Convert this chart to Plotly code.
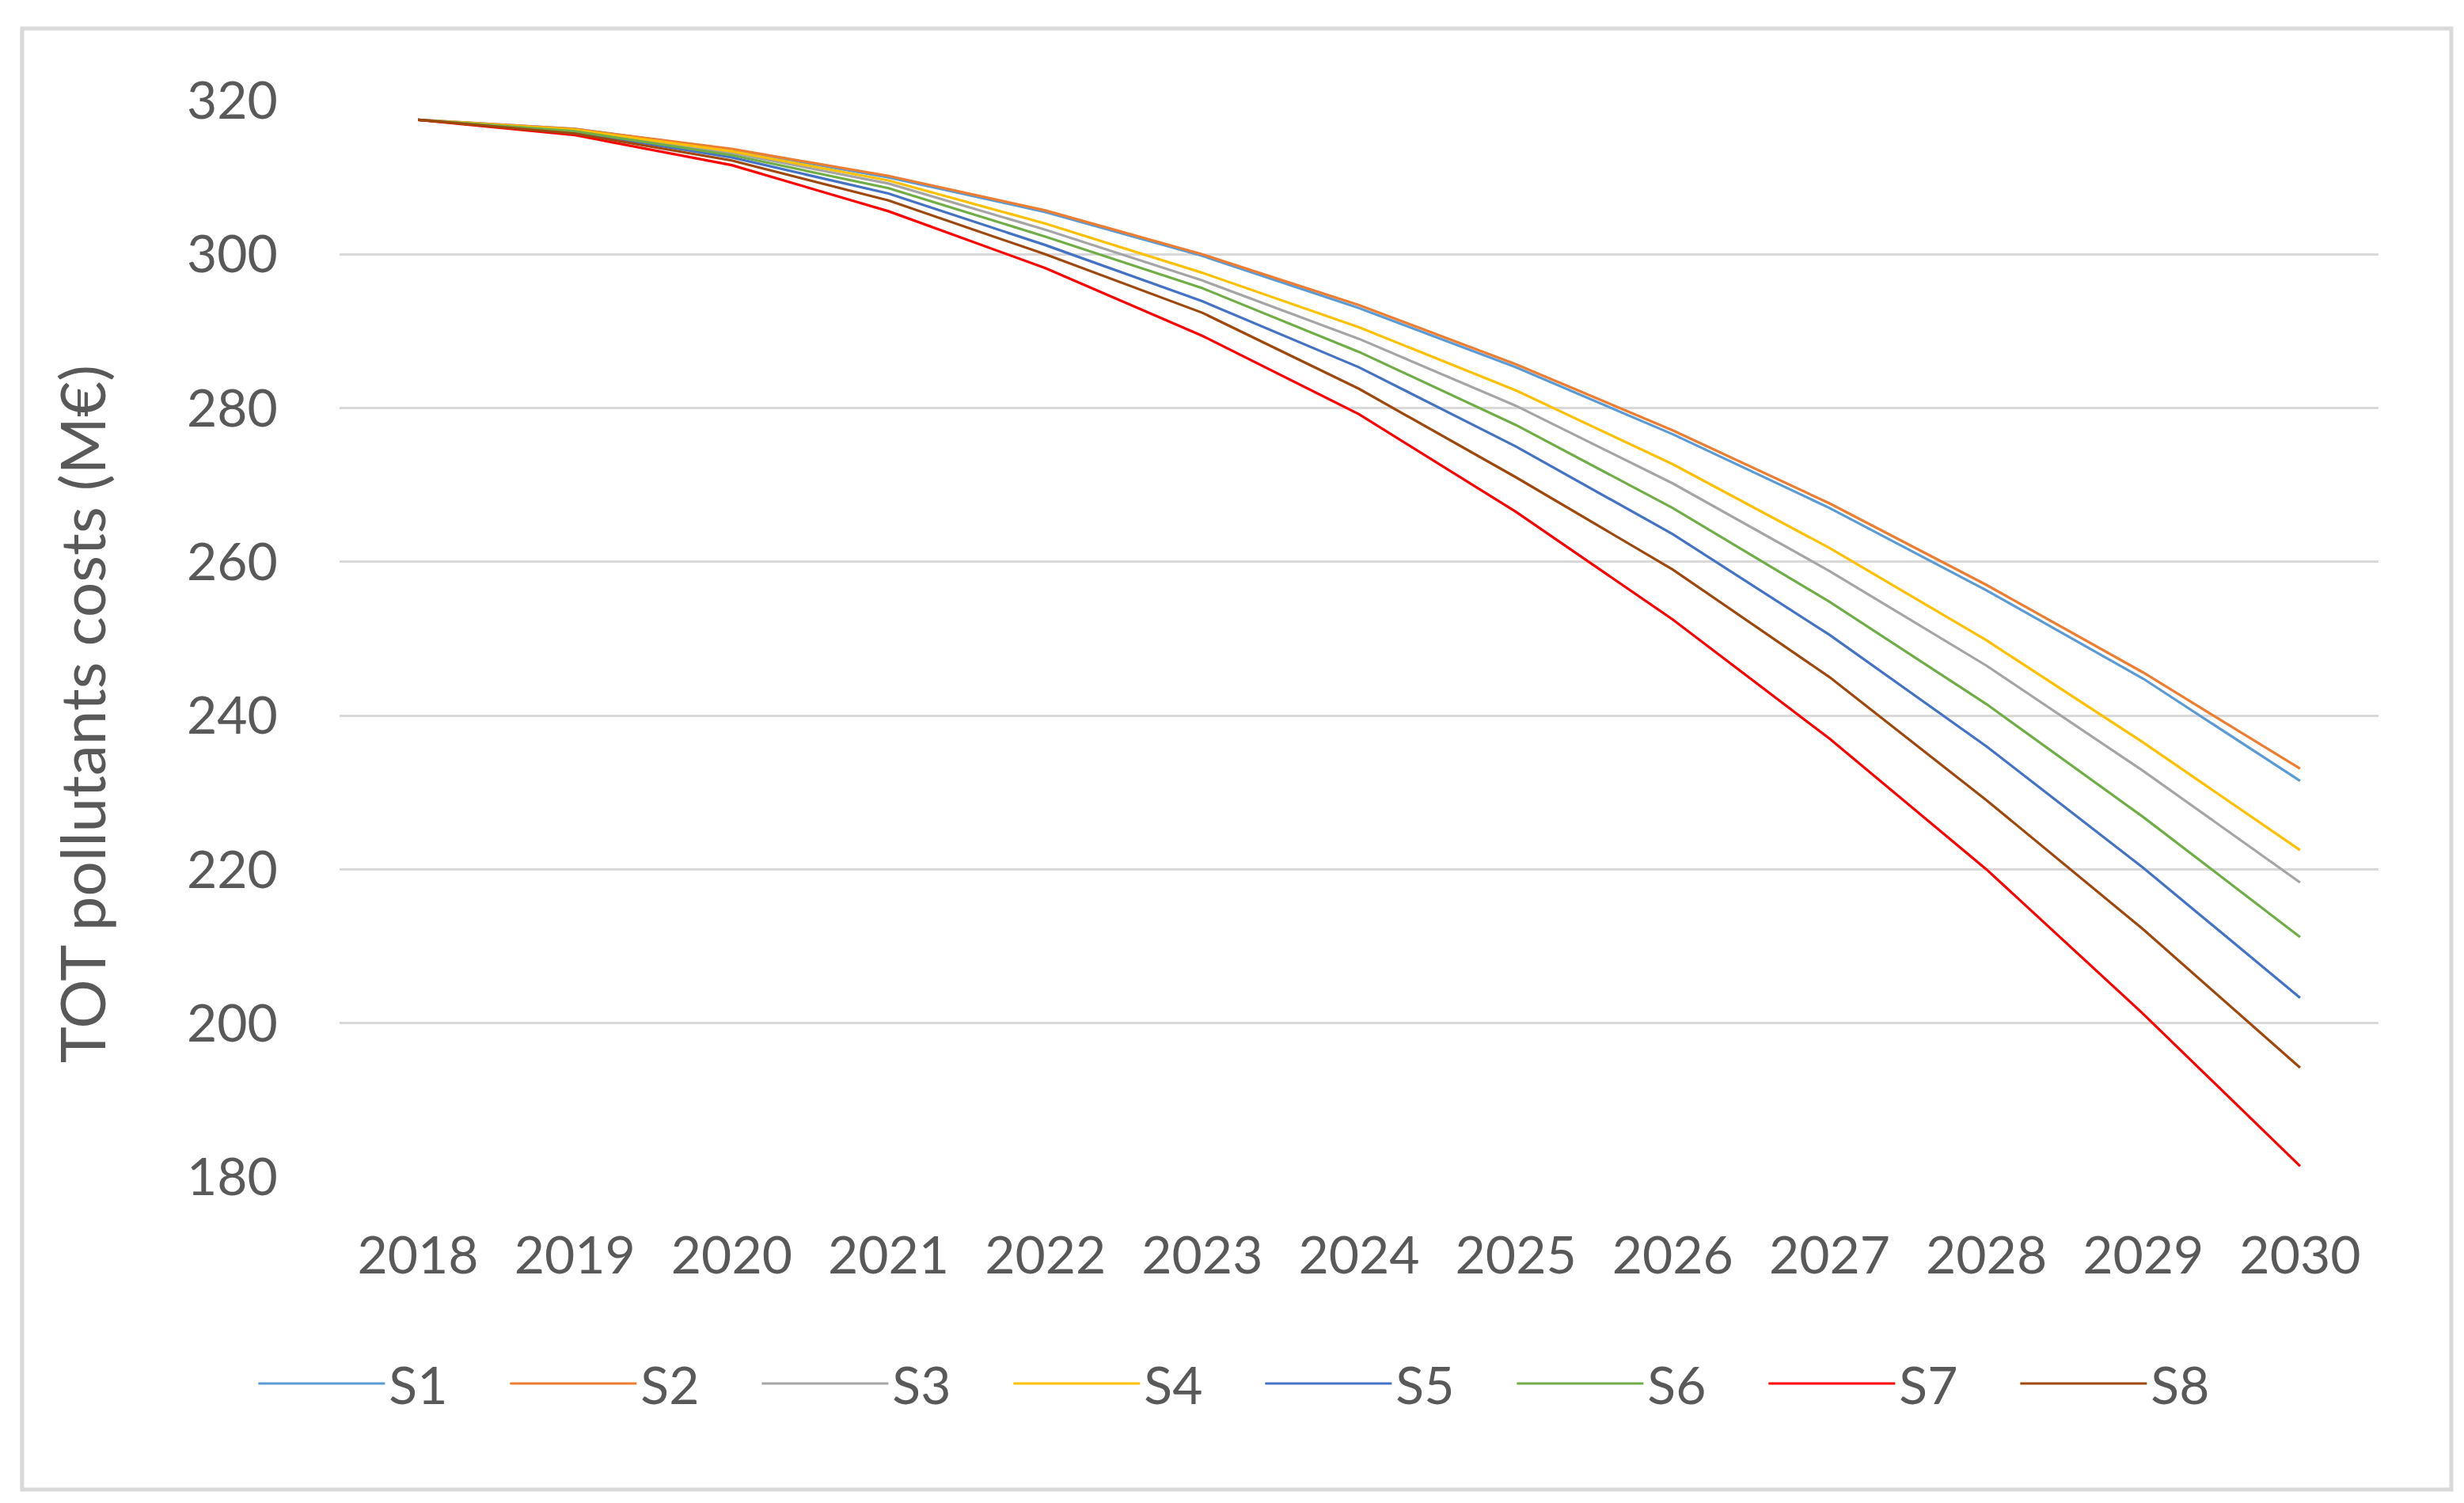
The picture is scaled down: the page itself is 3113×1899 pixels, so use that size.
import plotly.graph_objects as go

years = ["2018", "2019", "2020", "2021", "2022", "2023", "2024",
         "2025", "2026", "2027", "2028", "2029", "2030"]

s1 = [317.5, 316.3, 313.6, 310.0, 305.5, 299.8, 293.0, 285.3, 276.6, 267.0, 256.3, 244.8, 231.5]
s2 = [317.5, 316.3, 313.7, 310.2, 305.7, 300.0, 293.4, 285.7, 277.1, 267.6, 257.0, 245.6, 233.1]
s3 = [317.5, 316.1, 313.2, 309.2, 303.2, 296.6, 289.0, 280.3, 270.2, 258.8, 246.5, 232.8, 218.3]
s4 = [317.5, 316.2, 313.4, 309.6, 304.0, 297.6, 290.5, 282.3, 272.7, 261.8, 249.8, 236.5, 222.5]
s5 = [317.5, 315.9, 312.6, 307.9, 301.2, 293.9, 285.3, 275.0, 263.6, 250.5, 236.0, 220.2, 203.3]
s6 = [317.5, 316.0, 312.9, 308.6, 302.3, 295.6, 287.3, 277.8, 267.0, 254.8, 241.5, 226.8, 211.2]
s7 = [317.5, 315.5, 311.6, 305.6, 298.2, 289.4, 279.2, 266.5, 252.5, 237.0, 220.0, 201.2, 181.4]
s8 = [317.5, 315.7, 312.2, 307.0, 300.0, 292.4, 282.5, 271.0, 259.0, 245.0, 229.0, 212.2, 194.2]

names = ["S1", "S2", "S3", "S4", "S5", "S6", "S7", "S8"]
series = [s1, s2, s3, s4, s5, s6, s7, s8]
colors = ["#5B9BD5", "#ED7D31", "#A5A5A5", "#FFC000", "#4472C4", "#70AD47", "#FF0000", "#9E480E"]

y_ticks = [180, 200, 220, 240, 260, 280, 300, 320]
y_title = "TOT pollutants costs (M€)"

FONT = "Lato"
TXT = "#595959"

fig = go.Figure()
for n, s, c in zip(names, series, colors):
    fig.add_trace(go.Scatter(x=years, y=s, name=n, mode="lines",
                             line=dict(color=c, width=3.2)))

fig.update_layout(
    width=3113, height=1899,
    paper_bgcolor="white", plot_bgcolor="white",
    margin=dict(l=421, r=116, t=119, b=420, autoexpand=False),
    font=dict(family=FONT, color=TXT, size=66),
    showlegend=True,
    legend=dict(orientation="h", x=0.452, xanchor="center", xref="paper",
                y=-0.192, yanchor="middle", yref="paper",
                font=dict(family=FONT, size=66, color=TXT),
                itemwidth=160, entrywidth=143, tracegroupgap=0,
                bgcolor="rgba(0,0,0,0)"),
    xaxis=dict(type="category", range=[-0.5, 12.5], showgrid=False,
               showline=False, zeroline=False,
               ticks="outside", ticklen=42, tickcolor="rgba(0,0,0,0)",
               tickfont=dict(family=FONT, size=66, color=TXT)),
    yaxis=dict(range=[180, 320], tickvals=y_ticks, showgrid=True,
               gridcolor="#D9D9D9", gridwidth=2.5, zeroline=False,
               showline=False,
               ticks="outside", ticklen=64, tickcolor="rgba(0,0,0,0)",
               tickfont=dict(family=FONT, size=66, color=TXT)),
    annotations=[dict(text=y_title, xref="paper", yref="paper",
                      x=-0.1265, y=0.43, xanchor="center", yanchor="middle",
                      textangle=-90, showarrow=False,
                      font=dict(family=FONT, size=78, color=TXT))],
    shapes=[dict(type="rect", xref="paper", yref="paper",
                 x0=-0.1557, x1=1.0357, y0=-0.2904, y1=1.067,
                 line=dict(color="#D9D9D9", width=5), fillcolor="rgba(0,0,0,0)",
                 layer="below")],
)

fig.write_html("out.html")
